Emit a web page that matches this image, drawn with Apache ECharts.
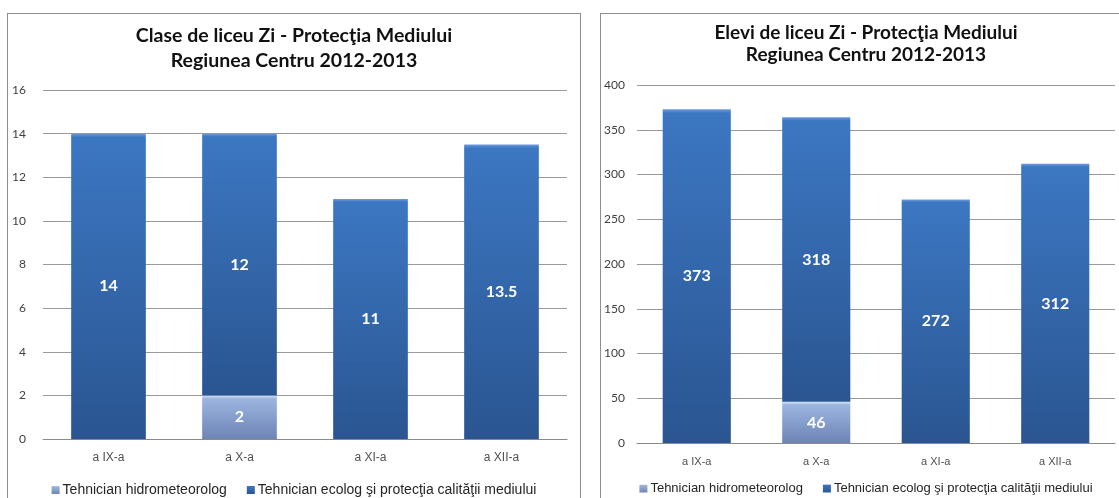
<!DOCTYPE html>
<html lang="ro">
<head>
    <meta charset="UTF-8">
    <title>Protecţia Mediului - Regiunea Centru 2012-2013</title>
    <script src="https://cdn.jsdelivr.net/npm/echarts@6/dist/echarts.min.js"></script>
    <style>
        html, body { margin: 0; padding: 0; background: #fff; overflow: hidden; }
        body { width: 1119px; height: 498px; position: relative; }
        .panel { position: absolute; border: 1px solid #8e8e8e; background: #fff; }
    </style>
</head>
<body>

<div id="clase" class="panel" style="left:7px; top:13px; width:572px; height:500px;"></div>
<div id="elevi" class="panel" style="left:600px; top:13px; width:530px; height:500px;"></div>

<script type="text/javascript">
    // date
    var categories = ['a IX-a', 'a X-a', 'a XI-a', 'a XII-a'];
    var seriesNames = ['Tehnician hidrometeorolog', 'Tehnician ecolog şi protecţia calităţii mediului'];

    var claseHidro = [null, 2, null, null];
    var claseEcolog = [14, 12, 11, 13.5];

    var eleviHidro = [null, 46, null, null];
    var eleviEcolog = [373, 318, 272, 312];

    var darkBlue = new echarts.graphic.LinearGradient(0, 0, 0, 1, [
        { offset: 0, color: '#6b9be0' },
        { offset: 0.012, color: '#3c77c2' },
        { offset: 1, color: '#2a5591' }
    ]);
    var lightBlue = new echarts.graphic.LinearGradient(0, 0, 0, 1, [
        { offset: 0, color: '#d2e2f7' },
        { offset: 0.08, color: '#9cb5df' },
        { offset: 1, color: '#6d84b5' }
    ]);

    function makeOption(cfg) {
        var label = {
            show: true,
            position: 'inside',
            color: '#fff',
            fontFamily: 'Lato',
            fontWeight: 'bold',
            fontSize: 16
        };
        return {
            animation: false,
            title: {
                text: cfg.title,
                left: 'center',
                top: cfg.titleTop,
                textStyle: {
                    fontFamily: 'Lato',
                    fontWeight: 'bold',
                    fontSize: cfg.titleSize,
                    lineHeight: cfg.titleLine,
                    color: '#111'
                }
            },
            legend: {
                data: seriesNames,
                left: 'center',
                top: cfg.legendTop,
                itemGap: 20,
                itemWidth: 8,
                itemHeight: 8,
                icon: 'rect',
                textStyle: {
                    fontFamily: 'Liberation Sans',
                    fontSize: cfg.legendSize,
                    color: '#262626',
                    padding: [0, 0, 0, -2]
                }
            },
            grid: {
                left: cfg.gridLeft,
                right: cfg.gridRight,
                top: cfg.gridTop,
                height: cfg.gridHeight
            },
            xAxis: {
                type: 'category',
                data: categories,
                axisTick: { show: false },
                axisLine: { lineStyle: { color: '#8a8a8a' } },
                axisLabel: {
                    margin: 13,
                    fontFamily: 'Liberation Sans',
                    fontSize: cfg.xLabelSize,
                    color: '#505050'
                }
            },
            yAxis: {
                type: 'value',
                min: 0,
                max: cfg.max,
                interval: cfg.interval,
                axisLabel: {
                    margin: cfg.yMargin,
                    fontFamily: 'Lato',
                    fontSize: cfg.yLabelSize,
                    color: '#404040'
                },
                splitLine: { lineStyle: { color: '#9a9a9a' } }
            },
            series: [
                {
                    name: seriesNames[0],
                    type: 'bar',
                    stack: 'total',
                    barWidth: '57%',
                    data: cfg.hidro,
                    itemStyle: { color: lightBlue },
                    label: label
                },
                {
                    name: seriesNames[1],
                    type: 'bar',
                    stack: 'total',
                    barWidth: '57%',
                    data: cfg.ecolog,
                    itemStyle: { color: darkBlue },
                    label: label
                }
            ]
        };
    }

    var chartClase = echarts.init(document.getElementById('clase'));
    chartClase.setOption(makeOption({
        title: 'Clase de liceu Zi - Protecţia Mediului\nRegiunea Centru 2012-2013',
        titleTop: 4, titleSize: 19.5, titleLine: 25,
        legendTop: 464, legendSize: 14,
        gridLeft: 35, gridRight: 13, gridTop: 76, gridHeight: 349,
        xLabelSize: 12, yLabelSize: 12, yMargin: 17,
        max: 16, interval: 2,
        hidro: claseHidro, ecolog: claseEcolog
    }));

    var chartElevi = echarts.init(document.getElementById('elevi'));
    chartElevi.setOption(makeOption({
        title: 'Elevi de liceu Zi - Protecţia Mediului\nRegiunea Centru 2012-2013',
        titleTop: 3, titleSize: 19, titleLine: 22,
        legendTop: 463, legendSize: 13,
        gridLeft: 36, gridRight: 16, gridTop: 71, gridHeight: 358,
        xLabelSize: 11, yLabelSize: 12, yMargin: 12,
        max: 400, interval: 50,
        hidro: eleviHidro, ecolog: eleviEcolog
    }));
</script>
</body>
</html>
